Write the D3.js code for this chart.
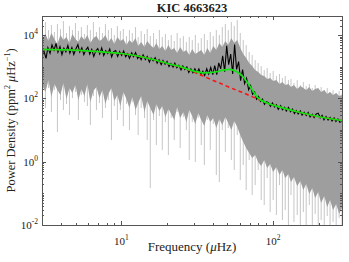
<!DOCTYPE html>
<html>
<head>
<meta charset="utf-8">
<script src="https://cdn.jsdelivr.net/npm/d3@7"></script>
<style>
body { margin: 0; background: #fff; }
svg text { font-family: "Liberation Serif", "DejaVu Serif", serif; fill: #222; }
</style>
</head>
<body>
<svg id="chart" width="349" height="262"></svg>
<script>
"use strict";

// Power spectrum (freq in muHz, power density in ppm^2/muHz)
const specFreq = [3.02,3.16,3.31,3.46,3.62,3.79,3.97,4.15,4.35,4.55,4.76,4.98,5.21,5.45,5.71,5.97,6.25,6.54,6.85,7.17,
    7.50,7.85,8.21,8.60,8.99,9.41,9.85,10.3,10.8,11.3,11.8,12.4,12.9,13.5,14.2,14.8,15.5,16.3,17.0,17.8,
    18.6,19.5,20.4,21.3,22.3,23.3,24.4,25.6,26.8,28.0,29.3,30.7,32.1,33.6,35.2,36.8,38.5,40.3,42.2,44.2,
    46.2,48.4,50.6,53.0,55.4,58.0,60.7,63.5,66.4,69.5,72.7,76.1,79.6,83.4,87.3,91.3,95.5,100,105,110,
    115,120,126,131,137,144,151,158,165,173,181,189,198,207,217,227,237,248,260,272,284];

// single spikes (light grey): top and bottom of each
const rawHigh = [16700,25800,14400,20700,12500,22300,15500,27700,11600,19300,
    14400,24000,13400,17900,10800,20700,14400,25800,12500,17900,
    11600,22300,14400,16700,10000,19300,13400,15500,9300,14400,
    11600,17900,8650,13400,10800,15500,9300,11600,7480,14400,
    8650,10800,6950,10000,6470,11600,8040,9300,6010,8650,
    6950,10000,5590,8040,10800,6950,12500,9300,14400,10000,
    17900,22300,14400,25800,19300,29800,11600,6950,4830,2910,
    2340,1620,1310,1050,785,908,631,730,508,587,
    439,508,379,408,305,379,264,328,245,284,
    212,264,197,228,183,212,159,183,147,171,137];
const rawLow = [159,49.5,212,37,183,8.65,88.5,42.8,66.2,29.8,
    102,159,20.7,127,76.5,57.3,14.4,118,42.8,71.2,
    24,49.5,88.5,4.83,57.3,20.7,42.8,13.4,66.2,10,
    76.5,29.8,6.95,49.5,24,4.83,0.147,20.7,3.36,27.7,
    2.34,17.9,1.62,24,4.83,37,2.70,25.8,10,1.13,
    17.9,0.977,24,3.36,0.785,20.7,2.34,15.5,0.379,0.228,
    10,2.02,11.6,1.13,0.546,6.95,0.264,0.785,0.127,1.13,
    0.0885,0.183,0.546,0.0616,0.0428,0.305,0.0258,0.0616,0.0207,0.183,
    0.0144,0.0298,0.008,0.0885,0.0125,0.0207,0.007,0.0258,0.008,0.0428,
    0.007,0.0223,0.007,0.0144,0.007,0.0193,0.007,0.0125,0.007,0.0167,0.007];

// dense part of the spectrum (darker grey): upper and lower edge
const bandHigh = [8040,10800,6470,11600,7480,5200,10000,6950,8650,5590,
    10800,7480,6010,9300,6950,10000,5590,8040,9300,6470,
    7480,10000,6010,8040,5200,8650,6470,7480,4830,6950,
    5590,8040,4500,6010,4180,6470,4830,3890,5590,3620,
    4500,3130,4830,3360,3890,2700,4180,2910,3360,2340,
    3620,2510,2910,3360,2340,3890,2700,4500,3360,5590,
    4180,6470,4830,8040,5590,6950,3890,2510,1880,1310,
    1050,785,679,546,508,408,439,353,379,284,
    328,264,284,228,264,197,245,212,183,228,
    171,197,212,159,183,137,159,127,147,118,127];
const bandLow = [245,159,379,110,284,183,127,305,95.2,212,
    147,264,88.5,197,118,284,76.5,171,228,102,
    183,66.2,137,212,82.3,127,57.3,159,95.2,49.5,
    110,42.8,71.2,118,37,82.3,49.5,29.8,66.2,39.8,
    57.3,25.8,46,32,20.7,53.2,24,37,17.9,42.8,
    27.7,15.5,34.4,20.7,13.4,29.8,17.9,24,11.6,22.3,
    14.4,25.8,16.7,10,19.3,12.5,6.95,4.18,2.70,1.88,
    1.31,1.62,0.977,0.73,1.13,0.631,0.845,0.472,0.679,0.379,
    0.546,0.305,0.408,0.228,0.328,0.171,0.245,0.127,0.197,0.0952,
    0.147,0.0712,0.110,0.0495,0.0823,0.037,0.0616,0.0298,0.046,0.0223,0.0344];

// smoothed spectrum (black)
const smoothFreq = [3.00,3.09,3.19,3.28,3.39,3.49,3.60,3.71,3.82,3.94,4.06,4.18,4.31,4.44,4.58,4.72,4.86,5.01,5.17,5.32,
    5.49,5.66,5.83,6.01,6.19,6.38,6.58,6.78,6.99,7.20,7.42,7.65,7.89,8.13,8.38,8.63,8.90,9.17,9.45,9.74,
    10.04,10.35,10.67,11.0,11.3,11.7,12.0,12.4,12.8,13.1,13.5,13.9,14.4,14.8,15.3,15.7,16.2,16.7,17.2,17.7,
    18.3,18.8,19.4,20.0,20.6,21.2,21.9,22.5,23.2,23.9,24.7,25.4,26.2,27.0,27.8,28.7,29.6,30.5,31.4,32.4,
    33.4,34.4,35.4,36.5,37.6,38.8,40.0,41.2,42.5,43.8,45.1,46.5,47.9,49.4,50.9,52.5,54.1,55.7,57.4,59.2,
    61.0,62.9,64.8,66.8,68.9,71.0,73.1,75.4,77.7,80.1,82.5,85.0,87.6,90.3,93.1,96.0,98.9,102,105,108,
    112,115,119,122,126,130,134,138,142,146,151,155,160,165,170,175,181,186,192,198,
    204,210,216,223,230,237,244,252,259,267,275,284];
const smoothPower = [2130,3140,1840,4020,2640,4910,3310,5470,2860,4320,2420,3830,2960,4680,2680,4050,2430,3640,4970,2900,
    3960,2420,3380,4120,2520,3520,2100,3150,3750,2510,3940,2240,3210,2590,3610,2050,3000,3240,2120,3020,
    2260,3120,2060,2590,1840,2720,2060,2770,1830,2200,1660,2360,1690,2100,1400,1870,1530,1910,1300,1660,
    1160,1570,1200,1480,1010,1250,975,1300,933,1110,789,1060,818,982,661,859,647,865,635,851,
    557,719,527,863,589,944,561,1090,566,1320,859,2220,697,4560,1160,2500,594,5010,824,1460,
    365,805,294,428,187,252,135,160,94,116,80.5,95,64.4,78.5,73.3,55.7,71.8,53.2,62.7,45.4,
    59,44,52.1,39.8,51.6,37.8,45.7,33.3,41.3,32.3,40.1,29.4,36.7,28.8,36,25.8,31.5,24.8,32.4,34.3,
    24.3,29.2,21.1,26.5,20.6,24.8,19.2,24.2,18.7,22.5,17.5,19.1];

// background + oscillation excess fit (green) and background alone (red dashed)
const fitFreq = [3.0,4.83,8.09,10,13.3,18.1,22.0,24.4,28.4,34.6,41.5,46.8,52.0,57.9,63.5,70.6,78.5,91.3,111,151,204,284];
const fitPower = [3530,3360,2840,2610,2100,1460,1130,1010,785,640,680,785,826,680,472,233,110,71,53,35.7,25.8,20];
const bgFreq = [3.0,4.83,8.09,10,13.3,18.1,22.0,24.4,28.4,33.1,38.0,44.8,52.0,57.9,63.5,70.6,78.5,91.3,111,151,204,284];
const bgPower = [3530,3360,2840,2610,2100,1460,1120,980,750,560,415,299,220,178,150,120,97.5,71,53,35.7,25.8,20];

// axis ticks
const xTickValues = [10, 100];
const xTickExp = ["1", "2"];
const yTickValues = [1e-2, 1, 1e2, 1e4];
const yTickExp = ["-2", "0", "2", "4"];

const PS = {};

PS.draw = function () {
    const left = 42, right = 342, top = 16, bottom = 225;
    const svg = d3.select("#chart");

    const x = d3.scaleLog().domain([3.0, 284]).range([left, right]);
    const y = d3.scaleLog().domain([0.01, 40000]).range([bottom, top]);

    svg.append("defs").append("clipPath").attr("id", "plotclip")
        .append("rect")
        .attr("x", left).attr("y", top)
        .attr("width", right - left).attr("height", bottom - top);

    const plot = svg.append("g").attr("clip-path", "url(#plotclip)");

    // single spikes (light grey)
    plot.append("g")
        .selectAll("line")
        .data(d3.zip(specFreq, rawHigh, rawLow))
        .enter()
        .append("line")
        .attr("x1", (d) => x(d[0]))
        .attr("x2", (d) => x(d[0]))
        .attr("y1", (d) => y(d[1]))
        .attr("y2", (d) => y(d[2]))
        .attr("stroke", "#c6c6c6")
        .attr("stroke-width", 1);

    // dense part (darker grey)
    const area = d3.area()
        .x((d) => x(d[0]))
        .y0((d) => y(d[2]))
        .y1((d) => y(d[1]));
    plot.append("path")
        .datum(d3.zip(specFreq, bandHigh, bandLow))
        .attr("d", area)
        .attr("fill", "#9e9e9e");

    // smoothed spectrum
    const line = d3.line()
        .x((d) => x(d[0]))
        .y((d) => y(d[1]));
    plot.append("path")
        .datum(d3.zip(smoothFreq, smoothPower))
        .attr("d", line)
        .attr("fill", "none")
        .attr("stroke", "#000")
        .attr("stroke-width", 1.1);

    const smoothLine = d3.line()
        .x((d) => x(d[0]))
        .y((d) => y(d[1]))
        .curve(d3.curveMonotoneX);

    plot.append("path")
        .datum(d3.zip(bgFreq, bgPower))
        .attr("d", smoothLine)
        .attr("fill", "none")
        .attr("stroke", "#ff1010")
        .attr("stroke-width", 1.5)
        .attr("stroke-dasharray", "4,3");

    plot.append("path")
        .datum(d3.zip(fitFreq, fitPower))
        .attr("d", smoothLine)
        .attr("fill", "none")
        .attr("stroke", "#12e612")
        .attr("stroke-width", 1.7);

    // axes: ticks on all four sides, pointing inward
    const xMinor = x.ticks().filter((v) => xTickValues.indexOf(v) < 0);
    const yMinor = y.ticks().filter((v) => yTickValues.indexOf(v) < 0);
    const blank = () => "";
    const axes = svg.append("g").attr("color", "#555").attr("shape-rendering", "crispEdges");

    const addAxis = function (gen, tr, vals, size) {
        axes.append("g")
            .attr("transform", tr)
            .call(gen.tickValues(vals).tickSize(-size).tickFormat(blank))
            .call((g) => g.select(".domain").remove());
    };
    addAxis(d3.axisBottom(x), "translate(0," + bottom + ")", xTickValues, 4);
    addAxis(d3.axisBottom(x), "translate(0," + bottom + ")", xMinor, 2);
    addAxis(d3.axisTop(x), "translate(0," + top + ")", xTickValues, 4);
    addAxis(d3.axisTop(x), "translate(0," + top + ")", xMinor, 2);
    addAxis(d3.axisLeft(y), "translate(" + left + ",0)", yTickValues, 4);
    addAxis(d3.axisLeft(y), "translate(" + left + ",0)", yMinor, 2);
    addAxis(d3.axisRight(y), "translate(" + right + ",0)", yTickValues, 4);
    addAxis(d3.axisRight(y), "translate(" + right + ",0)", yMinor, 2);

    axes.append("rect")
        .attr("x", left).attr("y", top)
        .attr("width", right - left).attr("height", bottom - top)
        .attr("fill", "none")
        .attr("stroke", "#555")
        .attr("stroke-width", 1);

    // tick labels as 10^n
    const xl = svg.append("g").selectAll("text")
        .data(d3.zip(xTickValues, xTickExp))
        .enter()
        .append("text")
        .attr("x", (d) => x(d[0]))
        .attr("y", 245)
        .attr("text-anchor", "middle")
        .attr("font-size", 11);
    xl.append("tspan").text("10");
    xl.append("tspan").attr("dy", -5).attr("font-size", 7.5).text((d) => d[1]);

    const yl = svg.append("g").selectAll("text")
        .data(d3.zip(yTickValues, yTickExp))
        .enter()
        .append("text")
        .attr("x", 38)
        .attr("y", (d) => y(d[0]) + 4)
        .attr("text-anchor", "end")
        .attr("font-size", 11);
    yl.append("tspan").text("10");
    yl.append("tspan").attr("dy", -5).attr("font-size", 7.5).text((d) => d[1]);

    // title and axis labels
    svg.append("text")
        .attr("x", (left + right) / 2).attr("y", 12)
        .attr("text-anchor", "middle")
        .attr("font-size", 12.5)
        .attr("font-weight", "bold")
        .text("KIC 4663623");

    const xlab = svg.append("text")
        .attr("x", (left + right) / 2).attr("y", 251)
        .attr("text-anchor", "middle")
        .attr("font-size", 13);
    xlab.append("tspan").text("Frequency (");
    xlab.append("tspan").attr("font-style", "italic").text("\u03bc");
    xlab.append("tspan").text("Hz)");

    const ylab = svg.append("text")
        .attr("transform", "translate(15," + ((top + bottom) / 2) + ") rotate(-90)")
        .attr("text-anchor", "middle")
        .attr("font-size", 12.5);
    ylab.append("tspan").text("Power Density (ppm");
    ylab.append("tspan").attr("dy", -5).attr("font-size", 8).text("2");
    ylab.append("tspan").attr("dy", 5).text(" ");
    ylab.append("tspan").attr("font-style", "italic").text("\u03bc");
    ylab.append("tspan").text("Hz");
    ylab.append("tspan").attr("dy", -5).attr("font-size", 8).text("\u22121");
    ylab.append("tspan").attr("dy", 5).text(")");
};

PS.draw();
</script>
</body>
</html>
